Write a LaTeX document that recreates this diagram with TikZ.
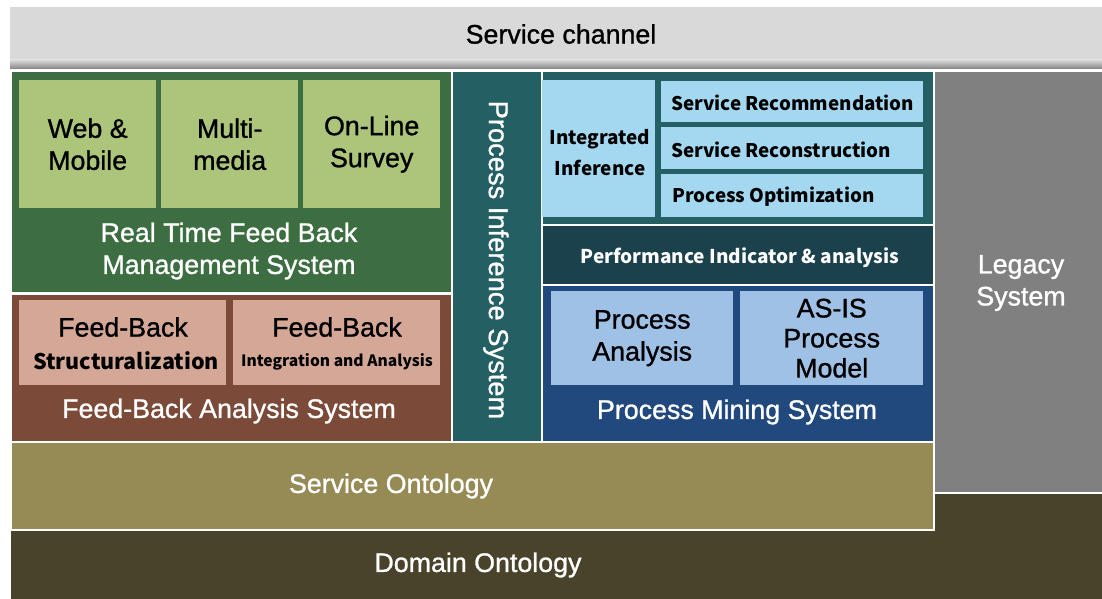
\documentclass[tikz,border=0pt]{standalone}
\usepackage{fontspec}
\setmainfont{Liberation Sans}[FakeBold=1]
\newfontfamily\kf{Noto Sans CJK KR}
\definecolor{chan}{HTML}{D9D9D9}
\definecolor{gdark}{HTML}{3C6E42}
\definecolor{glight}{HTML}{ADC57A}
\definecolor{bdark}{HTML}{7B4A38}
\definecolor{blight}{HTML}{D4A796}
\definecolor{teal}{HTML}{245F63}
\definecolor{tlight}{HTML}{A3D8F0}
\definecolor{perf}{HTML}{1B414D}
\definecolor{pdark}{HTML}{21497D}
\definecolor{plight}{HTML}{9FC1E6}
\definecolor{legacy}{HTML}{808080}
\definecolor{olive}{HTML}{968B55}
\definecolor{dom}{HTML}{4A432B}
\tikzset{
  area/.style={draw=white, line width=1.5pt, inner sep=0pt, anchor=north west},
  inbox/.style={inner sep=0pt, anchor=north west, align=center},
  big/.style={font=\fontsize{26.8}{32}\selectfont, align=center, inner sep=0pt},
  wbig/.style={big, text=white},
  kbold/.style={font=\kf\bfseries\fontsize{18.8}{30}\selectfont, inner sep=0pt}
}
\begin{document}
\begin{tikzpicture}[x=1pt,y=-1pt]
\useasboundingbox (0,0) rectangle (1102,599);
\fill[white] (0,0) rectangle (1102,599);
% service channel
\node[inbox, fill=chan, minimum width=1092, minimum height=62] (chan) at (10,7) {};
\shade[top color=chan, bottom color=chan!60!black] (10,60) rectangle (1102,69);
\node[big] (chant) at (561,34) {Service channel};
% domain ontology
\node[area, fill=dom, minimum width=1094, minimum height=110] (dom) at (9,491) {};
\node[wbig] (domt) at (478,565) {Domain Ontology};
% service ontology
\node[area, fill=olive, minimum width=923, minimum height=88] (sont) at (10,441) {};
\node[wbig] (sontt) at (391,486) {Service Ontology};
% legacy
\node[area, fill=legacy, minimum width=170, minimum height=421] (leg) at (933,71) {};
\node[wbig] (legt) at (1021,283) {Legacy\\System};
% real time feedback
\node[area, fill=gdark, minimum width=441, minimum height=221] (rt) at (10,71) {};
\node[inbox, fill=glight, minimum width=137, minimum height=128] (web) at (19,80) {};
\node[big] at (web.center) {Web \&\\Mobile};
\node[inbox, fill=glight, minimum width=137, minimum height=128] (mm) at (161,80) {};
\node[big] at (mm.center) {Multi-\\media};
\node[inbox, fill=glight, minimum width=137, minimum height=128] (ol) at (303,80) {};
\node[big] at (ol.center) {On-Line\\Survey};
\node[wbig] (rtt) at (229,251) {Real Time Feed Back\\Management System};
% feed-back analysis
\node[area, fill=bdark, minimum width=441, minimum height=148] (fb) at (10,293) {};
\node[inbox, fill=blight, minimum width=207, minimum height=85] (fbs) at (19,300) {};
\node[big] (fbs1) at (123,327) {Feed-Back};
\node[kbold, font=\kf\bfseries\fontsize{21.5}{30}\selectfont] (fbs2) at (126,361) {Structuralization};
\node[inbox, fill=blight, minimum width=207, minimum height=85] (fbi) at (233,300) {};
\node[big] (fbi1) at (337,327) {Feed-Back};
\node[kbold, font=\kf\bfseries\fontsize{15.6}{20}\selectfont] (fbi2) at (337,362) {Integration and Analysis};
\node[wbig] (fbt) at (229,411) {Feed-Back Analysis System};
% process inference system
\node[area, fill=teal, minimum width=90, minimum height=370] (pis) at (451,71) {};
\node[wbig, rotate=-90, font=\fontsize{27.3}{28}\selectfont] (pist) at (496,260) {Process Inference System};
% integrated inference area
\node[area, fill=teal, minimum width=392, minimum height=153] (ii) at (541,71) {};
\node[inbox, fill=tlight, minimum width=113, minimum height=137] (iib) at (542,80) {};
\node[kbold, align=center, font=\kf\bfseries\fontsize{18.9}{31}\selectfont] at (600,153) {Integrated\\Inference};
\node[inbox, fill=tlight, minimum width=262, minimum height=41] (srec) at (661,81) {};
\node[kbold, anchor=west] at (671,103) {Service Recommendation};
\node[inbox, fill=tlight, minimum width=262, minimum height=42] (srecon) at (661,127) {};
\node[kbold, anchor=west] at (671,150) {Service Reconstruction};
\node[inbox, fill=tlight, minimum width=262, minimum height=43] (popt) at (661,174) {};
\node[kbold, anchor=west] at (672,197) {Process Optimization};
% performance indicator
\node[area, fill=perf, minimum width=392, minimum height=60] (perfb) at (541,224) {};
\node[kbold, text=white, font=\kf\bfseries\fontsize{19}{30}\selectfont] at (740,258) {Performance Indicator \& analysis};
% process mining
\node[area, fill=pdark, minimum width=392, minimum height=157] (pm) at (541,284) {};
\node[inbox, fill=plight, minimum width=182, minimum height=94] (pa) at (551,291) {};
\node[big] at (pa.center) {Process\\Analysis};
\node[inbox, fill=plight, minimum width=183, minimum height=94] (asis) at (740,291) {};
\node[big, font=\fontsize{26.8}{30}\selectfont] at (asis.center) {AS-IS\\Process\\Model};
\node[wbig] (pmt) at (737,412) {Process Mining System};
\end{tikzpicture}
\end{document}
